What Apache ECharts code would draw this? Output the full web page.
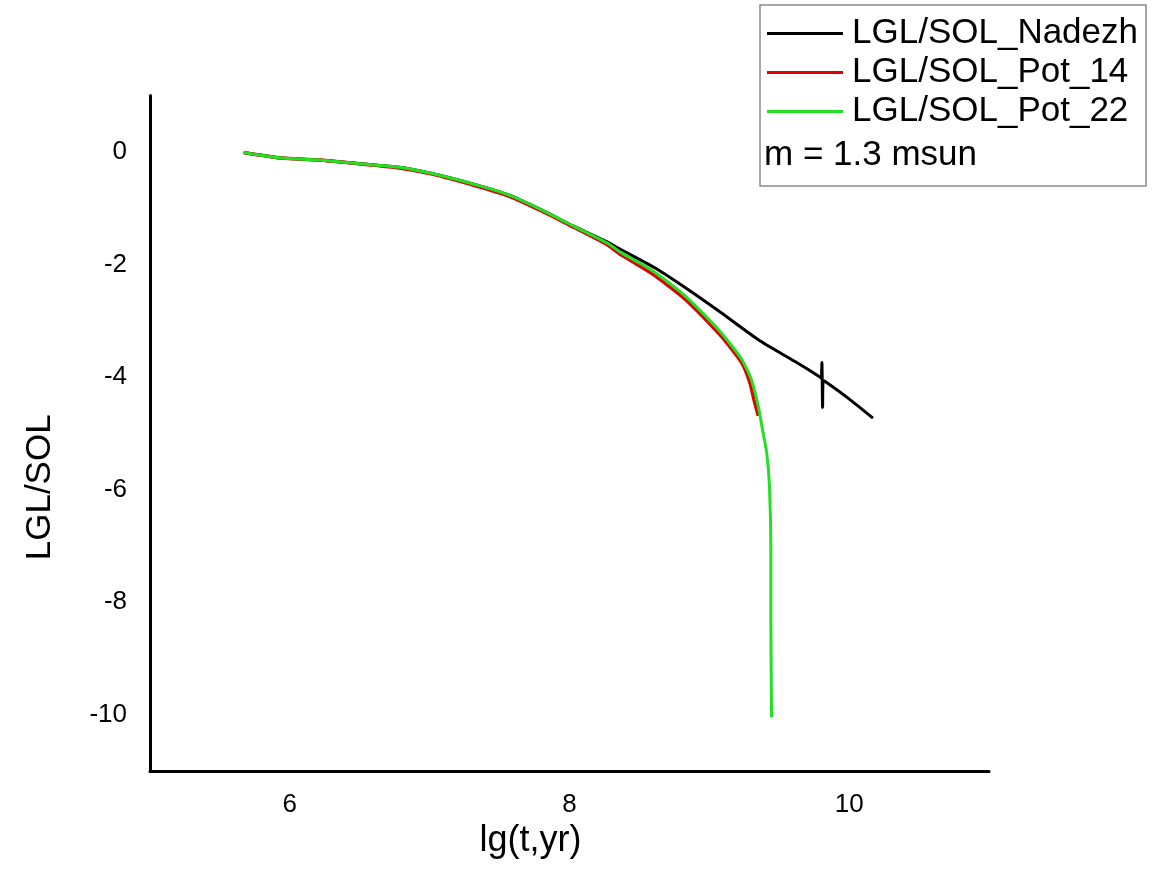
<!DOCTYPE html>
<html>
<head>
<meta charset="utf-8">
<script src="https://cdn.jsdelivr.net/npm/echarts@6/dist/echarts.min.js"></script>
<style>
  html, body { margin: 0; padding: 0; background: #fff; }
  #chart { width: 1170px; height: 882px; }
</style>
</head>
<body>
<div id="chart"></div>
<script>
// series names
var seriesNames = ['LGL/SOL_Nadezh', 'LGL/SOL_Pot_14', 'LGL/SOL_Pot_22'];
var massNote = 'm = 1.3 msun';

// black curve (Nadezh)
var nadezhX = [5.67, 5.94, 6.19, 6.41, 6.77, 7.01, 7.34, 7.56, 7.80, 8.03, 8.27, 8.37, 8.61, 8.85, 9.08, 9.37, 9.61, 9.78, 9.80, 9.805, 9.81, 9.815, 9.99, 10.17];
var nadezhY = [-0.01, -0.11, -0.14, -0.19, -0.27, -0.38, -0.59, -0.76, -1.03, -1.32, -1.60, -1.74, -2.06, -2.45, -2.85, -3.37, -3.72, -3.98, -4.02, -3.74, -4.54, -4.06, -4.37, -4.73];

// red curve (Pot_14)
var pot14X = [5.67, 5.94, 6.19, 6.41, 6.77, 7.01, 7.34, 7.56, 7.80, 8.03, 8.27, 8.37, 8.49, 8.61, 8.85, 9.08, 9.23, 9.29, 9.32, 9.35];
var pot14Y = [-0.01, -0.11, -0.14, -0.19, -0.28, -0.39, -0.61, -0.78, -1.05, -1.34, -1.65, -1.83, -2.01, -2.20, -2.67, -3.26, -3.74, -4.10, -4.41, -4.69];

// green curve (Pot_22)
var pot22X = [5.67, 5.94, 6.19, 6.41, 6.77, 7.01, 7.34, 7.56, 7.80, 8.03, 8.27, 8.37, 8.49, 8.61, 8.85, 9.08, 9.23, 9.30, 9.35, 9.38, 9.41, 9.43, 9.44, 9.44, 9.445];
var pot22Y = [-0.01, -0.11, -0.14, -0.19, -0.27, -0.38, -0.59, -0.76, -1.03, -1.32, -1.62, -1.79, -1.96, -2.14, -2.61, -3.20, -3.68, -4.04, -4.52, -4.93, -5.34, -5.93, -7.12, -8.30, -10.05];

var colors = ['#000000', '#e00000', '#22e022'];
var font = 'Liberation Sans, Arial, sans-serif';

function pairs(xs, ys) {
	return xs.map(function(x, i) { return [x, ys[i]]; });
}

function evenOnly(v) {
	return (v % 2 === 0) ? String(v) : '';
}

var chart = echarts.init(document.getElementById('chart'));

var option = {
	animation: false,
	backgroundColor: '#ffffff',
	color: colors,
	grid: { left: 150, top: 95.6, right: 181, bottom: 111, containLabel: false },
	legend: {
		data: seriesNames,
		orient: 'vertical',
		left: 760,
		top: 5,
		padding: [11, 8, 57, 7],
		itemGap: 4,
		itemWidth: 76,
		itemHeight: 3,
		icon: 'rect',
		borderColor: '#8a8a8a',
		borderWidth: 1.5,
		borderRadius: 0,
		textStyle: { fontFamily: font, fontSize: 35, color: '#000', padding: [0, 0, 0, 4] }
	},
	graphic: [{
		type: 'text',
		left: 764,
		top: 138,
		style: { text: massNote, font: '35px Liberation Sans, Arial, sans-serif', fill: '#000' }
	}],
	xAxis: {
		type: 'value',
		min: 5, max: 11, interval: 1,
		name: 'lg(t,yr)',
		nameLocation: 'middle',
		nameGap: 44,
		nameTextStyle: { fontFamily: font, fontSize: 36, color: '#000', padding: [0, 78, 0, 0] },
		axisLine: { onZero: false, lineStyle: { color: '#000', width: 3 } },
		axisTick: { show: false },
		splitLine: { show: false },
		axisLabel: { margin: 21, fontFamily: font, fontSize: 26, color: '#000', formatter: evenOnly }
	},
	yAxis: {
		type: 'value',
		min: -11, max: 1, interval: 1,
		name: 'LGL/SOL',
		nameLocation: 'middle',
		nameRotate: 90,
		nameGap: 92,
		nameTextStyle: { fontFamily: font, fontSize: 35, color: '#000', padding: [0, 108, 0, 0] },
		axisLine: { onZero: false, lineStyle: { color: '#000', width: 3 } },
		axisTick: { show: false },
		splitLine: { show: false },
		axisLabel: { margin: 23, fontFamily: font, fontSize: 26, color: '#000', formatter: evenOnly }
	},
	series: [
		{
			name: seriesNames[0], type: 'line', data: pairs(nadezhX, nadezhY),
			showSymbol: false, symbol: 'none', smooth: 0.2,
			lineStyle: { color: colors[0], width: 3 }, itemStyle: { color: colors[0] }
		},
		{
			name: seriesNames[1], type: 'line', data: pairs(pot14X, pot14Y),
			showSymbol: false, symbol: 'none', smooth: 0.2,
			lineStyle: { color: colors[1], width: 3.5 }, itemStyle: { color: colors[1] }
		},
		{
			name: seriesNames[2], type: 'line', data: pairs(pot22X, pot22Y),
			showSymbol: false, symbol: 'none', smooth: 0.2,
			lineStyle: { color: colors[2], width: 3 }, itemStyle: { color: colors[2] }
		}
	]
};

chart.setOption(option);
</script>
</body>
</html>
